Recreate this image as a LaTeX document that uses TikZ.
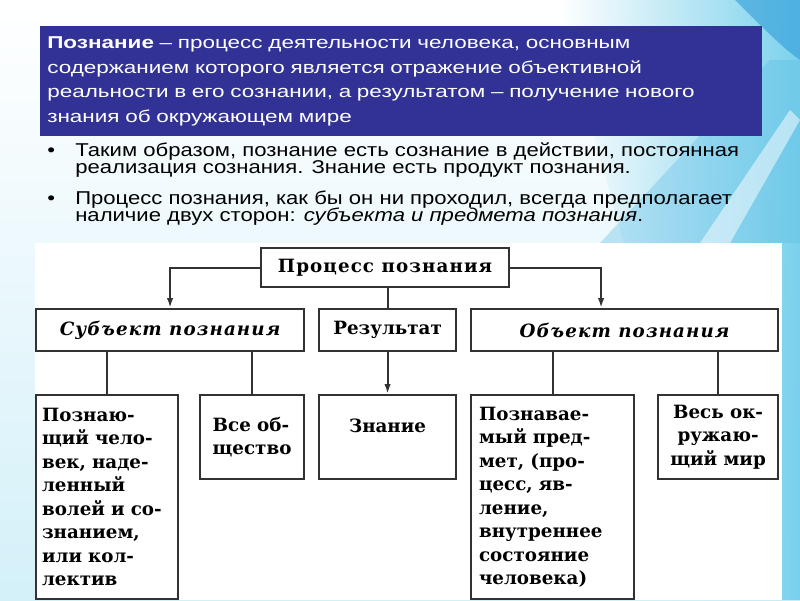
\documentclass[tikz,border=0pt]{standalone}
\usepackage{fontspec}
\setmainfont{Liberation Sans}[FakeStretch=1.31]
\newfontfamily\bulletfont{Liberation Sans}[FakeStretch=1.19]
\newfontfamily\schoolfont{DejaVu Serif}
\newfontfamily\schoolwide[LetterSpace=6]{DejaVu Serif}
\usetikzlibrary{arrows.meta,positioning,calc}

\definecolor{slideblue}{RGB}{50,50,150}
\definecolor{lineGrey}{RGB}{50,50,50}
\definecolor{skycyan}{RGB}{110,205,235}
\definecolor{deepcyan}{RGB}{40,150,215}

\newcommand{\pxu}{0.025cm}
\newlength{\bulind}
\setlength{\bulind}{0.7cm}

\tikzset{
  box/.style={draw=lineGrey, line width=1.5pt, fill=white, inner sep=0pt, anchor=north west,
    font=\schoolfont\bfseries\fontsize{13pt}{16.7pt}\selectfont},
  headbox/.style={box, font=\schoolwide\bfseries\fontsize{13pt}{16.7pt}\selectfont},
  wire/.style={draw=lineGrey, line width=1.5pt},
  arr/.style={wire, -{Latex[length=7pt,width=4.5pt]}},
  bullet/.style={anchor=north west, inner sep=0pt, align=left,
    font=\bulletfont\fontsize{13.2pt}{12.5pt}\selectfont},
}

\begin{document}
\begin{tikzpicture}[x=\pxu, y=-\pxu]
\useasboundingbox (0,0) rectangle (800,600);

% slide background
\shade[top color=white, bottom color=skycyan!30] (0,0) rectangle (800,600);
\shade[left color=white, right color=skycyan, opacity=0.9]
  (560,0) -- (800,0) -- (800,600) -- (640,600) .. controls (700,400) and (600,200) .. (560,0);
\fill[deepcyan, opacity=0.55] (735,0) .. controls (760,25) and (785,50) .. (800,60) -- (800,0) -- cycle;
\fill[skycyan!70!deepcyan, opacity=0.35] (600,243) -- (770,60) -- (800,60) -- (800,243) -- cycle;
\fill[white, opacity=0.5] (700,243) -- (790,110) -- (800,120) -- (730,243) -- cycle;

% definition
\node[fill=slideblue, anchor=north west, minimum width=722*\pxu, minimum height=110*\pxu,
  text width=708*\pxu, inner xsep=7*\pxu, align=left, text=white,
  font=\fontsize{12.2pt}{17.6pt}\selectfont]
  (def) at (40,26) {\textbf{Познание} – процесс деятельности человека, основным\\
  содержанием которого является отражение объективной\\
  реальности в его сознании, а результатом – получение нового\\
  знания об окружающем мире};
\node[bullet] (fact1) at (47,142) {\makebox[\bulind][l]{\textbullet}Таким образом, познание есть сознание в действии, постоянная\\
  \hspace*{\bulind}реализация сознания. Знание есть продукт познания.};
\node[bullet, below=0.31cm of fact1.south west, anchor=north west] (fact2)
  {\makebox[\bulind][l]{\textbullet}Процесс познания, как бы он ни проходил, всегда предполагает\\
  \hspace*{\bulind}наличие двух сторон: \textit{субъекта и предмета познания}.};

% diagram
\fill[white] (35,243) rectangle (782,600);
\node[headbox, minimum width=248*\pxu, minimum height=39*\pxu] (proc) at (260,247) {Процесс познания};
\node[headbox, minimum width=268*\pxu, minimum height=42*\pxu] (subj) at (35,308) {\itshape Субъект познания};
\node[box, minimum width=137*\pxu, minimum height=42*\pxu] (res) at (318,308) {Результат};
\node[headbox, minimum width=307*\pxu, minimum height=42*\pxu] (obj) at (470,308) {\itshape Объект познания};

\node[box, minimum width=142*\pxu, minimum height=204*\pxu, text width=130*\pxu, align=left] (knower) at (35,394)
  {Познаю-\\щий чело-\\век, наде-\\ленный\\волей и со-\\знанием,\\или кол-\\лектив};
\node[box, minimum width=104*\pxu, minimum height=84*\pxu, align=left] (society) at (199,394)
  {Все об-\\щество};
\node[box, minimum width=137*\pxu, minimum height=84*\pxu, align=center] (knowledge) at (318,394)
  {Знание\\\mbox{}};
\node[box, minimum width=163*\pxu, minimum height=204*\pxu, text width=147*\pxu, align=left] (thing) at (470,394)
  {Познавае-\\мый пред-\\мет, (про-\\цесс, яв-\\ление,\\внутреннее\\состояние\\человека)};
\node[box, minimum width=120*\pxu, minimum height=84*\pxu, align=center] (world) at (657,394)
  {Весь ок-\\ружаю-\\щий мир};

\draw[arr] (proc.west) -| (subj.north);
\draw[arr] (proc.east) -| ([xshift=-23.5*\pxu]obj.north);
\draw[wire] (res.north |- proc.south) -- (res.north);
\draw[arr] (res.south) -- (knowledge.north);
\draw[wire] (knower.north |- subj.south) -- (knower.north);
\draw[wire] (society.north |- subj.south) -- (society.north);
\draw[wire] (thing.north |- obj.south) -- (thing.north);
\draw[wire] (world.north |- obj.south) -- (world.north);
\end{tikzpicture}
\end{document}
